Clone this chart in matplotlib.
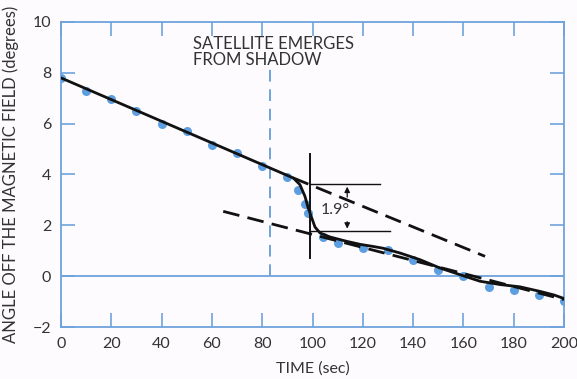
import numpy as np
import matplotlib.pyplot as plt

# measured data points (blue dots)
pt_t = [0, 10, 20, 30, 40, 50, 60, 70, 80, 90, 94.4, 97, 98.3, 104.3, 110,
        120, 130, 140, 150, 160, 170, 180, 190, 200]
pt_a = [7.79, 7.30, 6.96, 6.48, 5.99, 5.73, 5.16, 4.84, 4.34, 3.92, 3.40, 2.84, 2.48, 1.56, 1.32,
        1.11, 1.04, 0.63, 0.23, 0.0, -0.41, -0.53, -0.73, -0.96]

# fitted solid curve
fit_t = [0, 92.4, 95, 97, 98.3, 99.7, 101, 103, 107, 113.6, 119, 124, 128, 134.8,
         142.7, 150.7, 158.6, 166.6, 174.6, 182.5, 190.5, 196, 200]
fit_a = [7.8, 3.86, 3.6, 3.14, 2.68, 2.29, 1.93, 1.70, 1.54, 1.37, 1.25, 1.17, 1.10, 0.91,
         0.65, 0.32, 0.06, -0.2, -0.33, -0.42, -0.6, -0.74, -0.88]

# extrapolated trend lines (dashed)
upper_t = [92.2, 168.6]
upper_a = [3.87, 0.78]
lower_t = [64.5, 200]
lower_a = [2.55, -0.92]

shadow_t = 83
shadow_a = [0, 8.6]
offset_top = 3.63
offset_bot = 1.76

blue = '#6fa3dc'
txt = '#333333'
plt.rcParams['font.family'] = ['Lato', 'DejaVu Sans']

fig = plt.figure(figsize=(5.77, 3.79), dpi=100, facecolor='#fdfbfd')
ax = fig.add_axes([0.1057, 0.1372, 0.8718, 0.8048])
ax.set_facecolor('#fdfbfd')

ax.axhline(0, color=blue, lw=1.3, zorder=1)
ax.plot([shadow_t, shadow_t], shadow_a, color=blue, lw=1.4, ls=(0, (6, 4)), zorder=1)

ax.plot(pt_t, pt_a, 'o', color='#5d9ee0', ms=6.5, mec='none', zorder=2)
ax.plot(upper_t, upper_a, color='#111111', lw=2, ls=(0, (6, 3)), zorder=3)
ax.plot(lower_t, lower_a, color='#111111', lw=2, ls=(0, (6, 3)), zorder=3)
ax.plot(fit_t, fit_a, color='#111111', lw=2, zorder=4)

# offset marker
ax.plot([99, 99], [0.73, 4.81], color='#111111', lw=1.4, zorder=4)
ax.plot([99, 126.8], [offset_top, offset_top], color='#111111', lw=1, zorder=4)
ax.plot([99, 131], [offset_bot, offset_bot], color='#111111', lw=1, zorder=4)
ax.annotate('', xy=(113.8, offset_top), xytext=(113.8, 3.0),
            arrowprops=dict(arrowstyle='-|>', color='#111111', lw=0.9, mutation_scale=8))
ax.annotate('', xy=(113.8, offset_bot), xytext=(113.8, 2.25),
            arrowprops=dict(arrowstyle='-|>', color='#111111', lw=0.9, mutation_scale=8))
ax.text(109, 2.6, '1.9°', ha='center', va='center', fontsize=11.5, color=txt)

ax.text(52.5, 8.8, 'SATELLITE EMERGES\nFROM SHADOW', ha='left', va='center',
        fontsize=12, color=txt, linespacing=1.0)

ax.set_xlim(0, 200)
ax.set_ylim(-2, 10)
ax.set_xticks(np.arange(0, 201, 20))
ax.set_yticks(np.arange(-2, 11, 2))
ax.tick_params(direction='in', color=blue, width=1.2, length=10, top=True, right=True,
               labelsize=11.5, labelcolor=txt, pad=7)
for s in ax.spines.values():
    s.set_color(blue)
    s.set_linewidth(1.3)

ax.set_xlabel('TIME (sec)', fontsize=11.5, color=txt, labelpad=8)
ax.set_ylabel('ANGLE OFF THE MAGNETIC FIELD (degrees)', fontsize=12, color=txt, labelpad=10)

fig.savefig('out.png', dpi=100, facecolor=fig.get_facecolor())
